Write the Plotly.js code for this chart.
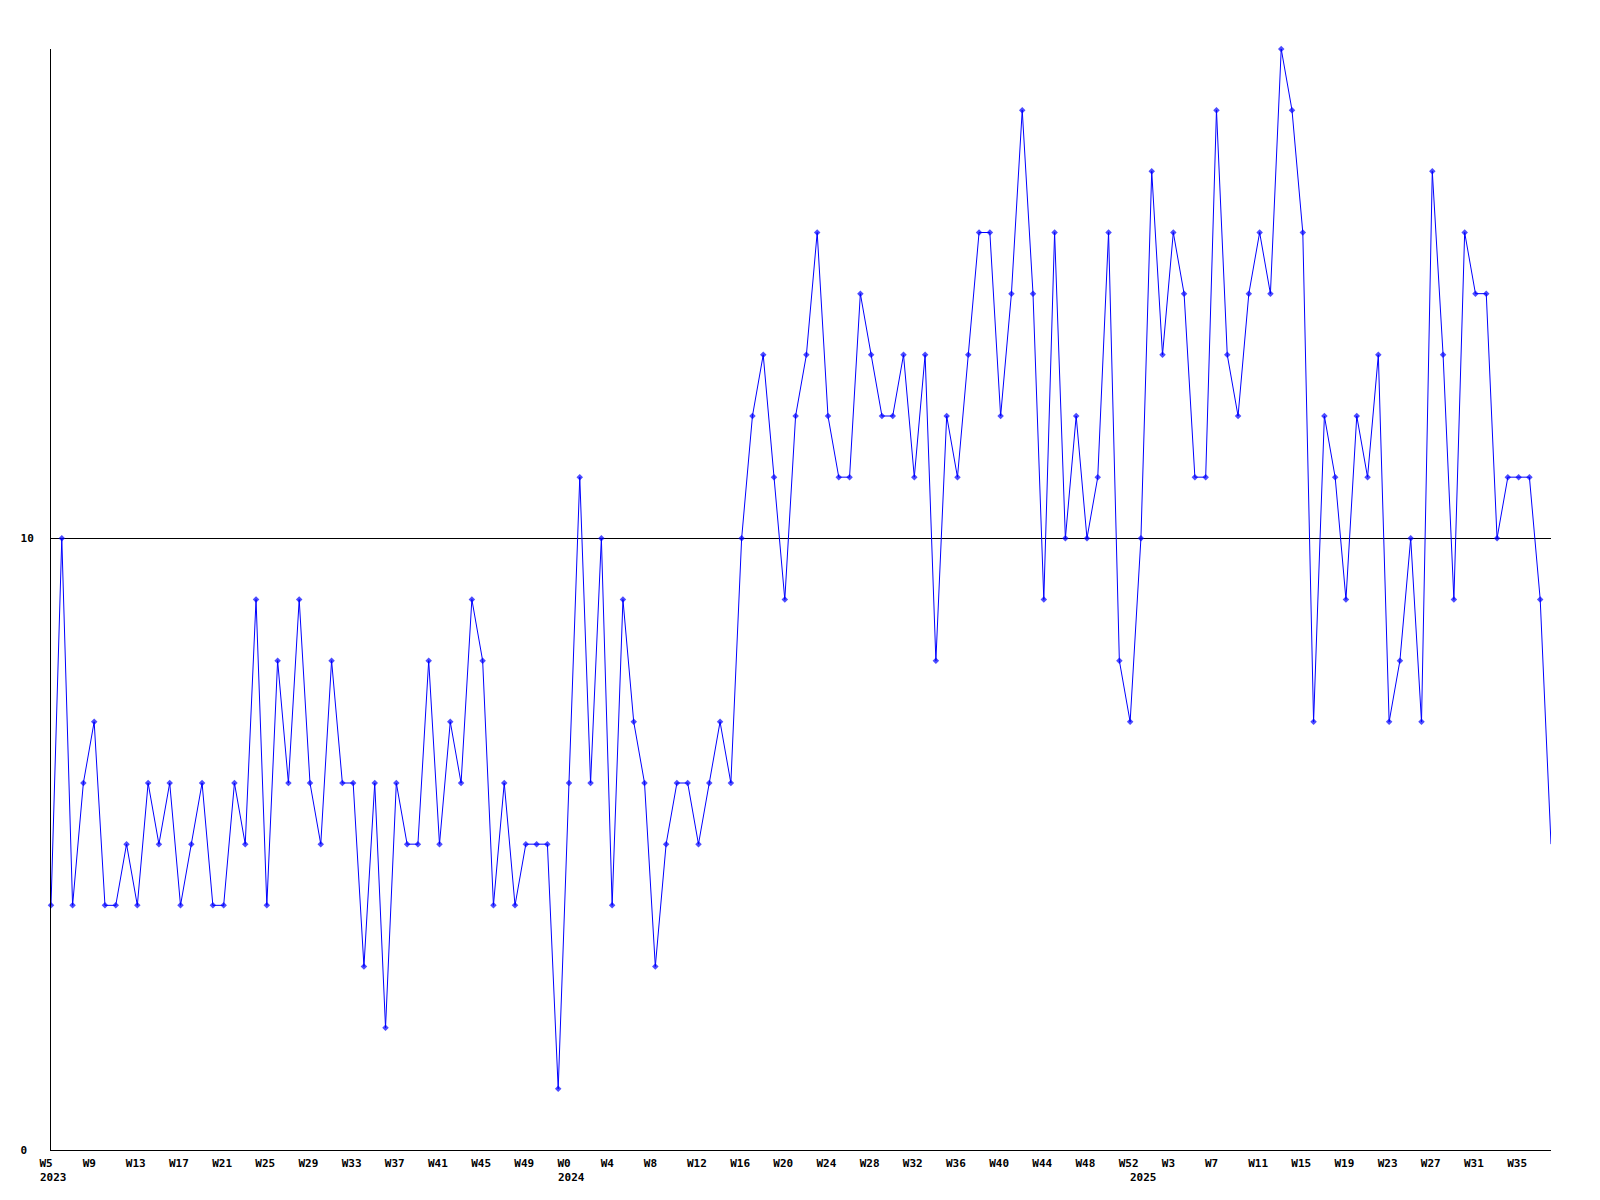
<!DOCTYPE html>
<html>
<head>
<meta charset="utf-8">
<script src="https://cdn.plot.ly/plotly-3.0.1.min.js"></script>
<style>
  html, body { margin: 0; padding: 0; background: #ffffff; }
  #chart { width: 1600px; height: 1200px; }
</style>
</head>
<body>
<div id="chart"></div>
<script>
// Week spans covered by the series (year, first week, last week)
const years = [2023, 2024, 2025];
const firstWeeks = [5, 0, 0];
const lastWeeks = [52, 52, 38];

// Weekly values
const values = [
  4, 10, 4, 6, 7, 4, 4, 5, 4, 6, 5, 6,
  4, 5, 6, 4, 4, 6, 5, 9, 4, 8, 6, 9,
  6, 5, 8, 6, 6, 3, 6, 2, 6, 5, 5, 8,
  5, 7, 6, 9, 8, 4, 6, 4, 5, 5, 5, 1,
  6, 11, 6, 10, 4, 9, 7, 6, 3, 5, 6, 6,
  5, 6, 7, 6, 10, 12, 13, 11, 9, 12, 13, 15,
  12, 11, 11, 14, 13, 12, 12, 13, 11, 13, 8, 12,
  11, 13, 15, 15, 12, 14, 17, 14, 9, 15, 10, 12,
  10, 11, 15, 8, 7, 10, 16, 13, 15, 14, 11, 11,
  17, 13, 12, 14, 15, 14, 18, 17, 15, 7, 12, 11,
  9, 12, 11, 13, 7, 8, 10, 7, 16, 13, 9, 15,
  14, 14, 10, 11, 11, 11, 9, 5
];

const yTickVals = [0, 10];
const yTickText = ['0\u00a0', '10'];
const tickEvery = 4;

// Build week/year categories
const weekNums = [], weekYears = [];
years.forEach((y, k) => {
  for (let w = firstWeeks[k]; w <= lastWeeks[k]; w++) { weekNums.push(w); weekYears.push(y); }
});
const xs = values.map((v, i) => i);

const tickVals = [], tickText = [];
for (let i = 0; i < values.length; i += tickEvery) {
  tickVals.push(i); tickText.push('W' + weekNums[i]);
}

const font = { family: 'DejaVu Sans Mono, monospace', size: 11, color: '#000000', weight: 'bold' };

// Year labels at the first week of each year
const yearAnnotations = years.map(y => ({
  x: weekYears.indexOf(y), xref: 'x', y: 0, yref: 'paper',
  text: String(y), showarrow: false, font: font,
  xanchor: 'left', yanchor: 'middle', xshift: -12, yshift: -27, borderpad: 0
}));

const markerSizes = values.map((v, i) => i === values.length - 1 ? 0 : 5);

const trace = {
  x: xs, y: values, type: 'scatter', mode: 'lines+markers',
  line: { color: '#0000ff', width: 1 },
  marker: { color: '#0000ff', size: markerSizes, symbol: 'diamond', line: { width: 0 } },
  cliponaxis: false, hoverinfo: 'skip'
};

const layout = {
  width: 1600, height: 1200,
  paper_bgcolor: '#ffffff', plot_bgcolor: '#ffffff',
  margin: { l: 51, r: 49, t: 49, b: 50 },
  showlegend: false,
  font: font,
  annotations: yearAnnotations,
  xaxis: {
    range: [0, values.length - 1],
    tickvals: tickVals, ticktext: tickText,
    tickfont: font,
    showgrid: false, zeroline: false,
    showline: true, linecolor: '#000000', linewidth: 1,
    ticks: '', ticklabelposition: 'outside right', ticklabelshift: -12,
    ticklabelstandoff: 3
  },
  yaxis: {
    range: [0, 18],
    tickvals: yTickVals, ticktext: yTickText,
    tickfont: font,
    showgrid: true, gridcolor: '#000000', gridwidth: 1,
    zeroline: false,
    showline: true, linecolor: '#000000', linewidth: 1,
    ticks: '', ticklabelstandoff: 14
  }
};

Plotly.newPlot('chart', [trace], layout, { displayModeBar: false, staticPlot: true });
</script>
</body>
</html>
